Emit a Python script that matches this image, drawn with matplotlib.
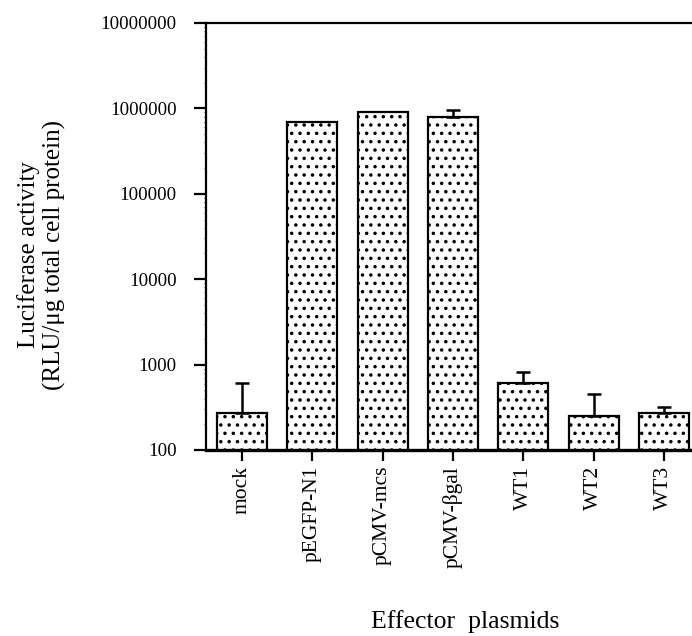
import matplotlib.pyplot as plt
import numpy as np

plt.rcParams['font.family'] = ['Liberation Serif', 'DejaVu Serif']
plt.rcParams['hatch.linewidth'] = 1.3

# values
plasmids = ['mock', 'pEGFP-N1', 'pCMV-mcs', 'pCMV-\u03b2gal', 'WT1', 'WT2', 'WT3']
activity = [272, 685000, 906000, 800000, 611, 250, 272]
err_up = [343, 0, 0, 146000, 211, 204, 47]

fig = plt.figure(figsize=(6.92, 6.36), dpi=100)
ax = fig.add_axes([206 / 692, 1 - 450 / 636, 1 - 206 / 692, (450 - 23) / 636])

x = np.arange(len(plasmids))
ax.bar(x, activity, width=0.71, bottom=0, color='white', edgecolor='black',
       linewidth=1.6, hatch='..', zorder=2)
show = [i for i, e in enumerate(err_up) if e > 0]
ax.errorbar(x[show], np.array(activity)[show],
            yerr=[np.zeros(len(show)), np.array(err_up)[show]],
            fmt='none', ecolor='black', elinewidth=1.8, capsize=5,
            capthick=1.8, zorder=3)

ax.set_yscale('log')
ax.set_ylim(100, 1e7)
ax.set_xlim(-0.51, 6.4)
ax.set_yticks([100, 1000, 10000, 100000, 1000000, 10000000])
ax.set_yticklabels(['100', '1000', '10000', '100000', '1000000', '10000000'])
ax.set_xticks(x)
ax.set_xticklabels(plasmids, rotation=90)

ax.spines['right'].set_visible(False)
ax.spines['left'].set_linewidth(1.6)
ax.spines['top'].set_linewidth(1.6)
ax.spines['bottom'].set_linewidth(2.4)
ax.tick_params(axis='y', which='major', length=9, width=1.6, labelsize=13.6, pad=12)
ax.tick_params(axis='y', which='minor', length=1.5, width=0.6)
ax.tick_params(axis='x', length=8, width=1.6, labelsize=15.5)

ax.set_ylabel('Luciferase activity\n(RLU/\u03bcg total cell protein)', fontsize=18,
              linespacing=1.15)
ax.yaxis.set_label_coords(-0.288, 0.457)
fig.text(465 / 692, 1 - 622 / 636, 'Effector  plasmids', fontsize=18.5,
         ha='center', va='center')

fig.savefig('out.png', dpi=100)
